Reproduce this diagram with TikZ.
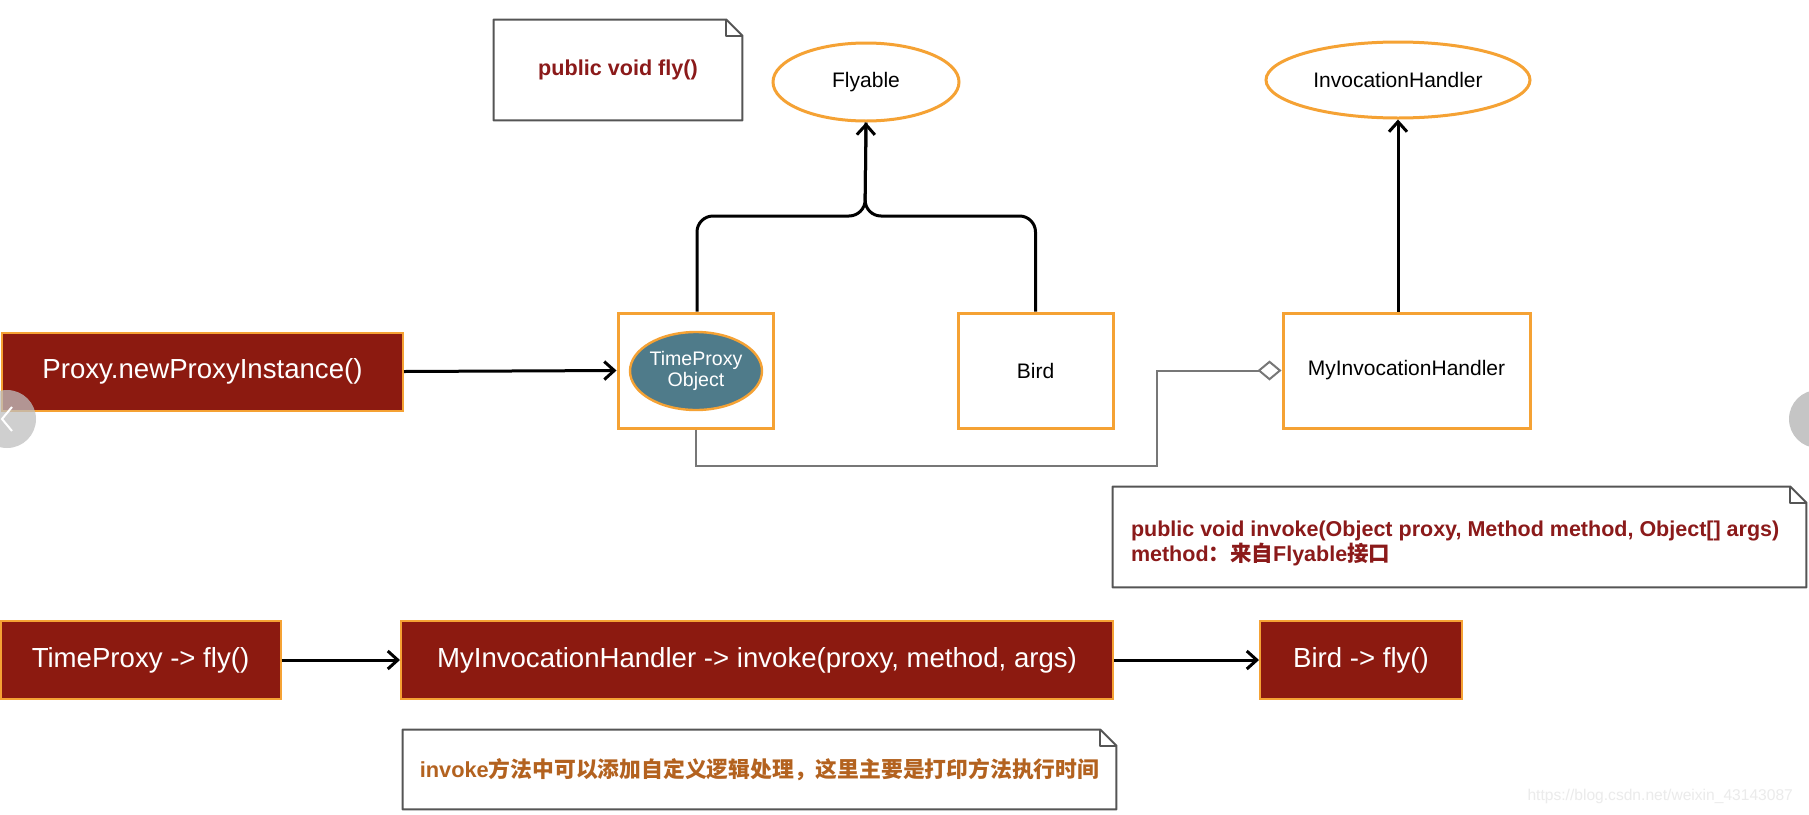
\documentclass[tikz,border=0pt]{standalone}
\usepackage{fontspec}
\setmainfont{Liberation Sans}
\setsansfont{Liberation Sans}
\newfontfamily\cjk{Noto Sans CJK SC}
\usetikzlibrary{shapes.geometric,arrows.meta,calc}
\definecolor{orng}{HTML}{F5A234}
\definecolor{dred}{HTML}{8C1A10}
\definecolor{tpteal}{HTML}{4F7B8A}
\definecolor{notered}{HTML}{8B1A1A}
\definecolor{notebrown}{HTML}{B3621F}
\definecolor{linegray}{HTML}{777777}
\definecolor{notegray}{HTML}{555555}
\newcommand\drawnote[2]{%
  \draw[notegray, line width=1pt, line join=round] (#1.south west) -- (#1.north west) -- ([xshift=-#2]#1.north east) -- ([yshift=-#2]#1.north east) -- (#1.south east) -- cycle;
  \draw[notegray, line width=1pt, line join=round] ([xshift=-#2]#1.north east) |- ([yshift=-#2]#1.north east);}
\tikzset{
  orangebox/.style={draw=orng, line width=1.5pt, minimum width=77.5pt, minimum height=57.5pt, inner sep=0pt, font=\fontsize{10.5}{12}\selectfont},
  redbox/.style={draw=orng, line width=1pt, fill=dred, text=white, inner sep=0pt, minimum height=39pt, font=\fontsize{13.8}{16}\selectfont},
  oval/.style={ellipse, draw=orng, line width=1.5pt, inner sep=0pt, font=\fontsize{10.5}{12}\selectfont},
  arr/.style={-{Straight Barb[length=5pt,width=9pt]}, line width=1.5pt},
  gline/.style={draw=linegray, line width=1pt},
  notebox/.style={inner sep=0pt},
}
\begin{document}
\begin{tikzpicture}[x=0.5pt,y=-0.5pt]
\fill[white] (0,0) rectangle (1809,814);
\useasboundingbox (0,0) rectangle (1809,814);
\clip (0,0) rectangle (1809,814);

% notes
\node[notebox, minimum width=124pt, minimum height=50pt, text=notered, font=\bfseries\fontsize{10.8}{13}\selectfont] (flynote) at (618,70) {public void fly()};
\drawnote{flynote}{8pt}

% ellipses
\node[oval, minimum width=93pt, minimum height=39pt] (fly) at (866,82) {Flyable};
\node[oval, minimum width=132pt, minimum height=38pt] (ih) at (1398,80) {InvocationHandler};

% boxes
\node[redbox, minimum width=200.5pt] (proxy) at (202.5,371.5) {Proxy.newProxyInstance()};
\node[orangebox] (tpbox) at (695.5,370.5) {};
\node[ellipse, draw=orng, line width=1.2pt, fill=tpteal, text=white, minimum width=66pt, minimum height=39pt, inner sep=0pt, align=center, font=\fontsize{9.8}{10.5}\selectfont] (tpobj) at (696,371) {TimeProxy\\Object};
\node[orangebox] (bird) at (1035.5,370.5) {Bird};
\node[orangebox, minimum width=123.5pt] (mih) at (1406.5,370.5) {MyInvocationHandler};

% invoke note
\node[notebox, minimum width=346.5pt, minimum height=50pt] (invnote) at (1459.5,537) {};
\node[anchor=west, inner sep=0pt, align=left, text=notered, font=\bfseries\fontsize{10.75}{11}\selectfont] (invtext) at ([xshift=9pt,yshift=-3pt]invnote.west) {public void invoke(Object proxy, Method method, Object[] args)\\method{\cjk ：来自}Flyable{\cjk 接口}};
\drawnote{invnote}{8pt}

% bottom row
\node[redbox, minimum width=140pt] (tpfly) at (140.5,660) {TimeProxy -> fly()};
\node[redbox, minimum width=356pt] (mihinv) at (757,660) {MyInvocationHandler -> invoke(proxy, method, args)};
\node[redbox, minimum width=101pt] (birdfly) at (1361,660) {Bird -> fly()};

\node[notebox, minimum width=356.5pt, minimum height=39.5pt, text=notebrown, font=\bfseries\fontsize{10.9}{13}\selectfont] (botnote) at (759.5,769.5) {invoke{\cjk 方法中可以添加自定义逻辑处理，这里主要是打印方法执行时间}};
\drawnote{botnote}{8pt}

% connectors
\coordinate (join) at (865,216);
\draw[line width=1.5pt, rounded corners=8pt] (tpbox.north -| 697,0) |- (join) -- (fly.south);
\draw[arr, rounded corners=8pt] (bird.north) |- (join) -- (fly.south);
\draw[arr] (ih.south |- mih.north) -- (ih.south);
\draw[arr] (proxy.east) -- (tpbox.west);
\draw[arr] (tpfly.east) -- (mihinv.west);
\draw[arr] (mihinv.east) -- (birdfly.west);
\coordinate (bend) at (1157,466);
\draw[gline, -{Diamond[open, length=12pt, width=10pt]}] (tpbox.south) |- (bend) |- (mih.west);

% page overlay elements
\fill[black!25, opacity=0.75] (7,419) circle (29);
\draw[white, line width=1pt] (12,407) -- (2,419) -- (12,431);
\fill[black!25, opacity=0.9] (1818,419) circle (29);
\node[text=black!8, font=\fontsize{7.8}{9}\selectfont, anchor=east] (wm) at (1800,796) {https://blog.csdn.net/weixin\_43143087};
\end{tikzpicture}
\end{document}
